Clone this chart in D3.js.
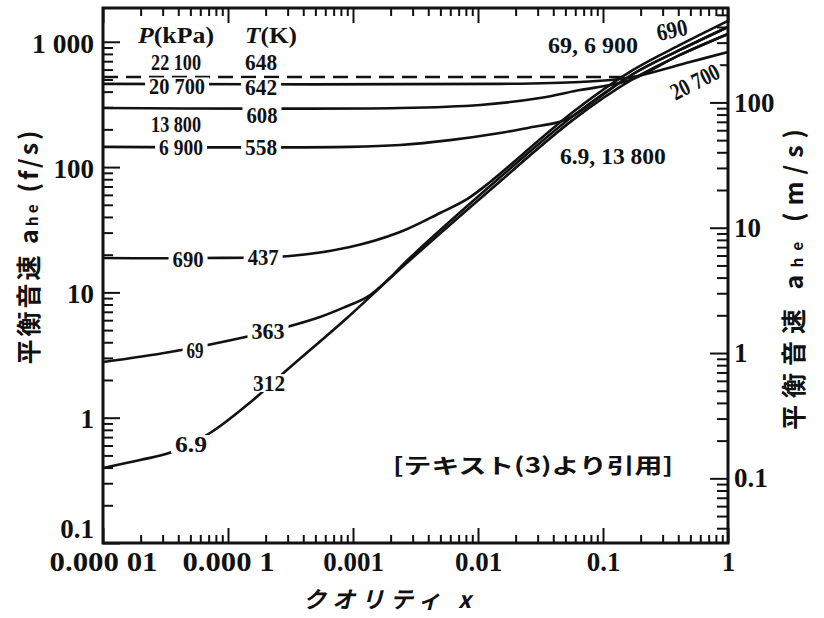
<!DOCTYPE html>
<html>
<head>
<meta charset="utf-8">
<script src="https://cdn.jsdelivr.net/npm/d3@7"></script>
<style>
  body { margin: 0; background: #fff; }
  svg { display: block; }
  .num { font-family: "Liberation Serif", "DejaVu Serif", serif; font-weight: bold; fill: #111; }
  .jp { font-family: "Noto Sans CJK JP", sans-serif; font-weight: bold; fill: #111; }
</style>
</head>
<body>
<div id="chart"></div>
<script>
// axis ticks
const xTickValues = [1e-5, 1e-4, 1e-3, 0.01, 0.1, 1];
const xTickLabels = ['0.000 01', '0.000 1', '0.001', '0.01', '0.1', '1'];
const yTickValues = [0.1, 1, 10, 100, 1000];
const yTickLabels = ['0.1', '1', '10', '100', '1 000'];
const msTickValues = [0.1, 1, 10, 100];
const msTickLabels = ['0.1', '1', '10', '100'];
const FT_TO_M = 0.3048;

// [quality x, sound speed f/s]
const p6_9 = [[1e-5, 0.397], [1.98e-5, 0.459], [3.56e-5, 0.532], [7.18e-5, 0.755], [1.58e-4, 1.38],
  [2.96e-4, 2.40], [8.95e-4, 6.25], [2.70e-3, 17.2], [0.0125, 65.7], [0.0575, 238], [0.174, 505],
  [0.413, 785], [1, 1154]];
const p69 = [[1e-5, 2.78], [3.44e-5, 3.34], [1.5e-4, 4.49], [2.96e-4, 5.30], [5.45e-4, 6.36],
  [8.63e-4, 7.64], [1.30e-3, 9.2], [1.90e-3, 12.6], [2.70e-3, 17.9], [0.0125, 70.6], [0.0575, 256],
  [0.174, 553], [0.413, 861], [1, 1312]];
const p690 = [[1e-5, 18.8], [5.97e-5, 18.8], [3.13e-4, 19.5], [9.46e-4, 23.0], [2.38e-3, 30.3],
  [4.97e-3, 43.0], [8.17e-3, 55.5], [0.0125, 76], [0.0575, 275], [0.174, 596], [0.413, 943], [1, 1466]];
const p6900 = [[1e-5, 145], [9.46e-4, 145], [2.38e-3, 150], [5.97e-3, 164], [0.015, 187], [0.0261, 207],
  [0.0453, 230], [0.0575, 256], [0.174, 553], [0.413, 861], [1, 1312]];
const p13800 = [[1e-5, 296], [2.38e-3, 296], [0.0104, 313], [0.0313, 356], [0.0655, 412], [0.114, 452],
  [0.174, 505], [0.413, 785], [1, 1154]];
const p20700 = [[1e-5, 461], [0.015, 461], [0.0655, 478], [0.156, 514], [0.497, 690], [1, 829]];
const p22100 = [[1e-5, 524], [0.15, 524]];

const solidSeries = [p6_9, p69, p690, p6900, p13800, p20700];

// curve labels: text, x, y (data units), width
const curveLabels = [
  { t: '22 100', x: 3.84e-5, y: 690, w: 50 },
  { t: '648', x: 1.84e-4, y: 690, w: 32 },
  { t: '20 700', x: 3.91e-5, y: 440, w: 56 },
  { t: '642', x: 1.84e-4, y: 432, w: 32 },
  { t: '608', x: 1.87e-4, y: 262, w: 31 },
  { t: '13 800', x: 3.84e-5, y: 222, w: 50 },
  { t: '6 900', x: 4.21e-5, y: 144, w: 44 },
  { t: '558', x: 1.84e-4, y: 144, w: 32 },
  { t: '690', x: 4.79e-5, y: 18.6, w: 31 },
  { t: '437', x: 1.91e-4, y: 19.2, w: 31 },
  { t: '69', x: 5.45e-5, y: 3.47, w: 17 },
  { t: '363', x: 2.09e-4, y: 4.95, w: 33 },
  { t: '6.9', x: 5.06e-5, y: 0.617, w: 32 },
  { t: '312', x: 2.13e-4, y: 1.89, w: 32 },
  { t: '69, 6 900', x: 0.0832, y: 943, w: 90 },
  { t: '6.9, 13 800', x: 0.120, y: 123, w: 106 },
  { t: '690', x: 0.356, y: 1242, w: 31, r: -12 },
  { t: '20 700', x: 0.544, y: 478, w: 52, r: -27 }
];

const W = 824, H = 618;
const svg = d3.select('#chart').append('svg').attr('width', W).attr('height', H);

const x = d3.scaleLog().domain([1e-5, 1]).range([103, 728]);
const y = d3.scaleLog().domain([0.1, 1860]).range([543, 8]);
const yMs = d3.scaleLog().domain([0.1 * FT_TO_M, 1860 * FT_TO_M]).range([543, 8]);

function minors(scale) {
  const [a, b] = scale.domain();
  const out = [];
  for (let e = Math.floor(Math.log10(a)); e <= Math.ceil(Math.log10(b)); e++) {
    for (let k = 2; k <= 9; k++) {
      const v = k * Math.pow(10, e);
      if (v > a && v < b) out.push(v);
    }
  }
  return out;
}

function styleAxis(g) {
  g.select('.domain').remove();
  g.selectAll('line').attr('stroke', '#111').attr('stroke-width', 2);
}

// left axis (f/s)
svg.append('g').attr('transform', 'translate(103,0)')
  .call(d3.axisLeft(y).tickValues(minors(y)).tickSize(-10).tickFormat(''))
  .call(styleAxis);
const gl = svg.append('g').attr('transform', 'translate(103,0)')
  .call(d3.axisLeft(y).tickValues(yTickValues).tickSize(-17).tickPadding(9)
    .tickFormat((d, i) => yTickLabels[i]))
  .call(styleAxis);
gl.selectAll('text').attr('class', 'num').attr('font-size', 27).attr('fill', '#111')
  .attr('dy', d => d === 0.1 ? '-0.22em' : '0.38em')
  .attr('textLength', d => d === 1000 ? 62 : null)
  .attr('lengthAdjust', 'spacingAndGlyphs');

// right axis (m/s)
svg.append('g').attr('transform', 'translate(728,0)')
  .call(d3.axisRight(yMs).tickValues(minors(yMs)).tickSize(-11).tickFormat(''))
  .call(styleAxis);
const gr = svg.append('g').attr('transform', 'translate(728,0)')
  .call(d3.axisRight(yMs).tickValues(msTickValues).tickSize(-18).tickPadding(6)
    .tickFormat((d, i) => msTickLabels[i]))
  .call(styleAxis);
gr.selectAll('text').attr('class', 'num').attr('font-size', 27).attr('fill', '#111');

// bottom axis
svg.append('g').attr('transform', 'translate(0,543)')
  .call(d3.axisBottom(x).tickValues(minors(x)).tickSize(-8).tickFormat(''))
  .call(styleAxis);
const gb = svg.append('g').attr('transform', 'translate(0,543)')
  .call(d3.axisBottom(x).tickValues(xTickValues).tickSize(-15).tickPadding(9)
    .tickFormat((d, i) => xTickLabels[i]))
  .call(styleAxis);
gb.selectAll('text').attr('class', 'num').attr('font-size', 27).attr('fill', '#111')
  .attr('textLength', d => ({ 1e-5: 108, 1e-4: 92 })[d] || null)
  .attr('lengthAdjust', 'spacingAndGlyphs');

// top axis
svg.append('g').attr('transform', 'translate(0,8)')
  .call(d3.axisTop(x).tickValues(minors(x)).tickSize(-8).tickFormat(''))
  .call(styleAxis);
svg.append('g').attr('transform', 'translate(0,8)')
  .call(d3.axisTop(x).tickValues(xTickValues).tickSize(-15).tickFormat(''))
  .call(styleAxis);

// frame
svg.append('rect')
  .attr('x', 103).attr('y', 8).attr('width', 625).attr('height', 535)
  .attr('fill', 'none').attr('stroke', '#111').attr('stroke-width', 3);

// curves
const line = d3.line()
  .x(d => x(d[0]))
  .y(d => y(d[1]))
  .curve(d3.curveCatmullRom.alpha(0.5));

const plot = svg.append('g');
plot.selectAll('path.curve')
  .data(solidSeries)
  .enter().append('path')
  .attr('class', 'curve')
  .attr('d', line)
  .attr('fill', 'none')
  .attr('stroke', '#111')
  .attr('stroke-width', 2.6);

plot.append('path')
  .datum(p22100)
  .attr('d', line)
  .attr('fill', 'none')
  .attr('stroke', '#111')
  .attr('stroke-width', 2.6)
  .attr('stroke-dasharray', '15,8');

// header labels
const head = svg.append('g').attr('class', 'num').attr('font-size', 23).attr('font-weight', 'normal');
head.append('text').attr('x', 176).attr('y', 35).attr('text-anchor', 'middle')
  .attr('dominant-baseline', 'central').attr('textLength', 76).attr('lengthAdjust', 'spacingAndGlyphs')
  .call(t => {
    t.append('tspan').attr('font-style', 'italic').text('P');
    t.append('tspan').text('(kPa)');
  });
head.append('text').attr('x', 271).attr('y', 35).attr('text-anchor', 'middle')
  .attr('dominant-baseline', 'central').attr('textLength', 52).attr('lengthAdjust', 'spacingAndGlyphs')
  .call(t => {
    t.append('tspan').attr('font-style', 'italic').text('T');
    t.append('tspan').text('(K)');
  });

// curve labels on a white patch that breaks the lines
const lab = svg.append('g').selectAll('g')
  .data(curveLabels)
  .enter().append('g')
  .attr('transform', d => `translate(${x(d.x)},${y(d.y)}) rotate(${d.r || 0})`);
lab.append('rect')
  .attr('x', d => -d.w / 2 - 4).attr('y', -9)
  .attr('width', d => d.w + 8).attr('height', 18)
  .attr('fill', '#fff');
lab.append('text')
  .attr('class', 'num')
  .attr('font-size', 24)
  .attr('font-weight', 'normal')
  .attr('text-anchor', 'middle')
  .attr('dominant-baseline', 'central')
  .attr('textLength', d => d.w)
  .attr('lengthAdjust', 'spacingAndGlyphs')
  .text(d => d.t);

// citation
svg.append('text')
  .attr('class', 'jp')
  .attr('x', 533).attr('y', 464)
  .attr('text-anchor', 'middle')
  .attr('dominant-baseline', 'central')
  .attr('font-size', 21)
  .attr('textLength', 280)
  .attr('lengthAdjust', 'spacingAndGlyphs')
  .text('[テキスト(3)より引用]');

// axis titles
function yTitle(cx, cy, unit, size, spacing) {
  const t = svg.append('text')
    .attr('class', 'jp')
    .attr('font-size', size)
    .attr('text-anchor', 'middle')
    .attr('dominant-baseline', 'central')
    .attr('letter-spacing', spacing)
    .attr('transform', `translate(${cx},${cy}) rotate(-90)`);
  t.append('tspan').text('平衡音速 a');
  t.append('tspan').attr('font-size', size * 0.62).attr('dy', 4).text('he');
  t.append('tspan').attr('dy', -4).text(` (${unit})`);
}
yTitle(27, 246, 'f/s', 25, 3);
yTitle(792, 276, 'm/s', 25, 7);

svg.append('text')
  .attr('class', 'jp')
  .attr('x', 390).attr('y', 598)
  .attr('text-anchor', 'middle')
  .attr('dominant-baseline', 'central')
  .attr('font-size', 23)
  .attr('font-weight', 'normal')
  .attr('font-style', 'italic')
  .attr('letter-spacing', 6)
  .text('クオリティ x');
</script>
</body>
</html>
